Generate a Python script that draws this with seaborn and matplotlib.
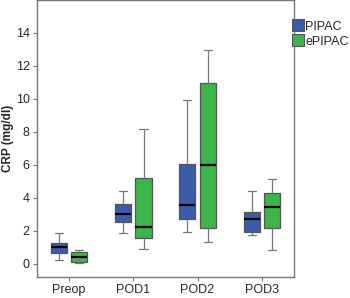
import numpy as np
import pandas as pd
import matplotlib
matplotlib.use("Agg")
import matplotlib.pyplot as plt
import seaborn as sns
from matplotlib.patches import Patch

categories = ["Preop", "POD1", "POD2", "POD3"]
groups = ["PIPAC", "ePIPAC"]
# five-number summaries: [whisker low, Q1, median, Q3, whisker high]
pipac_stats = [
    [0.25, 0.64, 1.05, 1.25, 1.85],
    [1.85, 2.55, 3.0, 3.65, 4.45],
    [1.95, 2.75, 3.55, 6.05, 9.95],
    [1.78, 1.92, 2.72, 3.12, 4.45],
]
epipac_stats = [
    [0.04, 0.12, 0.43, 0.72, 0.82],
    [0.93, 1.58, 2.25, 5.2, 8.15],
    [1.35, 2.2, 6.0, 10.95, 12.95],
    [0.85, 2.15, 3.45, 4.3, 5.15],
]
palette = {"PIPAC": "#3C5BA9", "ePIPAC": "#3CB54A"}

rows = []
for cat, s in zip(categories, pipac_stats):
    rows += [{"time": cat, "group": "PIPAC", "CRP": v} for v in s]
for cat, s in zip(categories, epipac_stats):
    rows += [{"time": cat, "group": "ePIPAC", "CRP": v} for v in s]
df = pd.DataFrame(rows)

sns.set_style("white")
plt.rcParams["font.family"] = ["Liberation Sans", "DejaVu Sans"]

fig = plt.figure(figsize=(3.5, 2.98), dpi=100)
ax = fig.add_axes([0.105, 0.07, 0.735, 0.93])

sns.boxplot(data=df, x="time", y="CRP", hue="group", order=categories,
            hue_order=groups, palette=palette, whis=np.inf, width=0.64,
            gap=0.22, saturation=1, linewidth=0.9, linecolor="#555555",
            medianprops={"color": "black", "linewidth": 1.6},
            whiskerprops={"color": "#777777"}, capprops={"color": "#777777"},
            legend=False, ax=ax)

ax.set_xlim(-0.5, 3.5)
ax.set_ylim(-0.8, 16.0)
ax.set_yticks([0, 2, 4, 6, 8, 10, 12, 14])
ax.set_xlabel("")
ax.set_ylabel("CRP (mg/dl)", fontsize=8.5, fontweight="bold")
ax.yaxis.set_label_coords(-0.088, 0.5)
ax.tick_params(axis="both", labelsize=9, length=3, width=0.8,
               color="#777777", direction="out", left=True, bottom=True, pad=2)
for sp in ax.spines.values():
    sp.set_color("#777777")
    sp.set_linewidth(1.0)

handles = [Patch(facecolor=palette[g], edgecolor="#555555", linewidth=0.8, label=g)
           for g in groups]
fig.legend(handles=handles, loc="upper left", bbox_to_anchor=(0.835, 0.935),
           frameon=False, fontsize=9, handlelength=0.9, handleheight=1.1,
           handletextpad=0.15, labelspacing=0.15, borderaxespad=0, borderpad=0)

fig.savefig("out.png", dpi=100)
